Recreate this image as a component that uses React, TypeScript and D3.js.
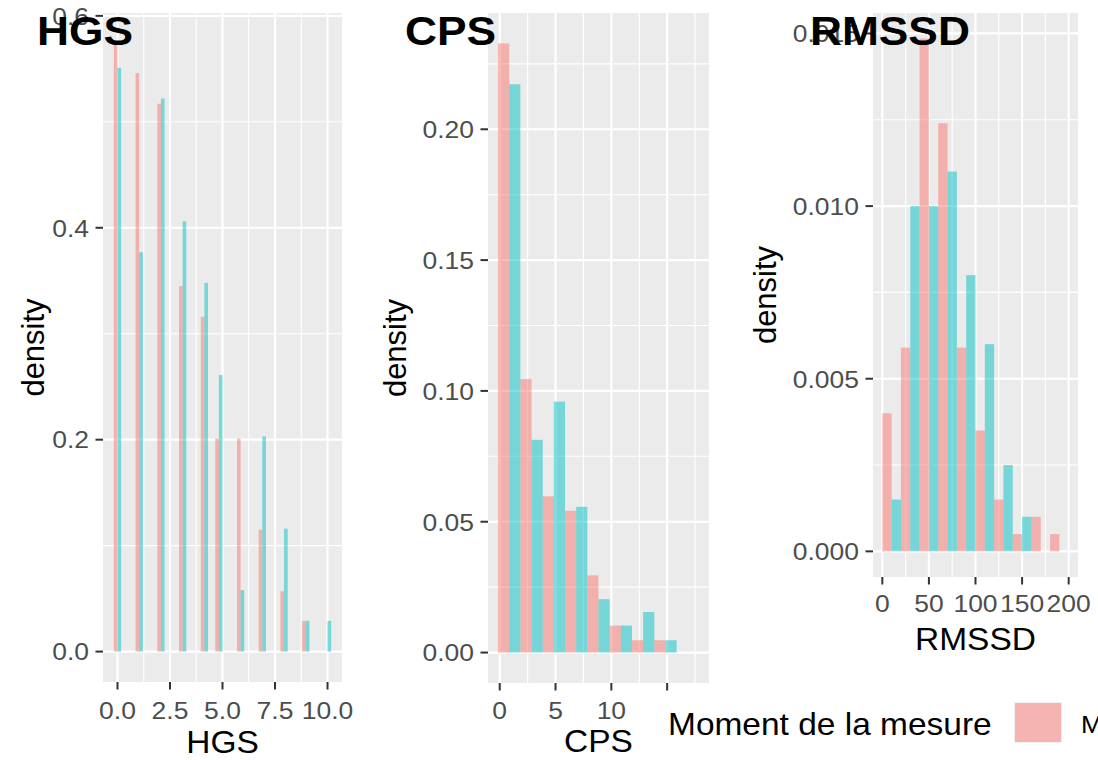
import React from "react";
import * as d3 from "d3";

// ---- data ----
const groups = ["Mesure 1", "Mesure 2"];
const groupColors = ["#F8766D", "#00BFC4"];

// HGS: bin centers (bin width 10/29)
const hgsBinCenters = [0, 1.034, 2.069, 3.103, 4.138, 4.828, 5.862, 6.897, 7.931, 8.966, 10];
const hgsBinWidth = 0.3448;
const hgsPink = [0.574, 0.546, 0.517, 0.345, 0.316, 0.201, 0.201, 0.115, 0.057, 0.029, 0];
const hgsCyan = [0.551, 0.377, 0.522, 0.406, 0.348, 0.261, 0.058, 0.203, 0.116, 0.029, 0.029];

// CPS: bin starts (bin width 2)
const cpsBinStarts = [-0.15, 1.85, 3.85, 5.85, 7.85, 9.85, 11.85, 13.85, 15.85];
const cpsBinWidth = 2;
const cpsPink = [0.2328, 0.1045, 0.0597, 0.0542, 0.0295, 0.0103, 0.0047, 0.0047, 0];
const cpsCyan = [0.2172, 0.0813, 0.0959, 0.0557, 0.0204, 0.0103, 0.0155, 0.0047, 0];

// RMSSD: bin starts (bin width 20)
const rmssdBinStarts = [0, 20, 40, 60, 80, 100, 120, 140, 160, 180];
const rmssdBinWidth = 20;
const rmssdPink = [0.004, 0.0059, 0.01485, 0.0124, 0.0059, 0.0035, 0.0015, 0.0005, 0.001, 0.0005];
const rmssdCyan = [0.0015, 0.01, 0.01, 0.011, 0.008, 0.006, 0.0025, 0.001, 0, 0];

const hgsXBreaks = [0, 2.5, 5, 7.5, 10];
const hgsXLabels = ["0.0", "2.5", "5.0", "7.5", "10.0"];
const hgsYBreaks = [0, 0.2, 0.4, 0.6];
const hgsYLabels = ["0.0", "0.2", "0.4", "0.6"];

const cpsXBreaks = [0, 5, 10, 15];
const cpsXLabels = ["0", "5", "10", ""];
const cpsYBreaks = [0, 0.05, 0.1, 0.15, 0.2];
const cpsYLabels = ["0.00", "0.05", "0.10", "0.15", "0.20"];

const rmssdXBreaks = [0, 50, 100, 150, 200];
const rmssdXLabels = ["0", "50", "100", "150", "200"];
const rmssdYBreaks = [0, 0.005, 0.01, 0.015];
const rmssdYLabels = ["0.000", "0.005", "0.010", "0.015"];

const FONT = "'Liberation Sans', Arial, sans-serif";
const SX = 1.08; // horizontal text stretch

function T(props: {
  x: number;
  y: number;
  size: number;
  fill?: string;
  anchor?: string;
  weight?: string;
  children: React.ReactNode;
}) {
  return (
    <text
      transform={`translate(${props.x},${props.y}) scale(${SX},1)`}
      textAnchor={props.anchor || "start"}
      fontSize={props.size}
      fontWeight={props.weight || "normal"}
      fill={props.fill || "#000"}
      fontFamily={FONT}
    >
      {props.children}
    </text>
  );
}

type PanelProps = {
  title: string;
  xTitle: string;
  left: number;
  right: number;
  top: number;
  bottom: number;
  binStarts: number[];
  binWidth: number;
  series: number[][];
  xBreaks: number[];
  xLabels: string[];
  yBreaks: number[];
  yLabels: string[];
  titleX: number;
  yTitleX: number;
  xLabelY: number;
  xTitleY: number;
};

function Panel(p: PanelProps) {
  const xmin = d3.min(p.binStarts)!;
  const xmax = d3.max(p.binStarts)! + p.binWidth;
  const xr = xmax - xmin;
  const x = d3.scaleLinear().domain([xmin - 0.05 * xr, xmax + 0.05 * xr]).range([p.left, p.right]);
  const ymax = d3.max(p.series.flat())!;
  const y = d3.scaleLinear().domain([-0.05 * ymax, ymax * 1.05]).range([p.bottom, p.top]);

  const xMinor: number[] = [];
  {
    const step = p.xBreaks[1] - p.xBreaks[0];
    for (let i = 0; i < p.xBreaks.length; i++) {
      const m = p.xBreaks[i] + step / 2;
      if (x(m) < p.right) xMinor.push(m);
    }
  }
  const yMinor: number[] = [];
  {
    const step = p.yBreaks[1] - p.yBreaks[0];
    for (let i = 0; i < p.yBreaks.length; i++) {
      const m = p.yBreaks[i] + step / 2;
      if (y(m) > p.top) yMinor.push(m);
    }
  }

  return (
    <g>
      <rect x={p.left} y={p.top} width={p.right - p.left} height={p.bottom - p.top} fill="#EBEBEB" />
      {yMinor.map((v) => (
        <line key={"ym" + v} x1={p.left} x2={p.right} y1={y(v)} y2={y(v)} stroke="#fff" strokeWidth={1.1} />
      ))}
      {xMinor.map((v) => (
        <line key={"xm" + v} y1={p.top} y2={p.bottom} x1={x(v)} x2={x(v)} stroke="#fff" strokeWidth={1.1} />
      ))}
      {p.yBreaks.map((v) => (
        <line key={"yM" + v} x1={p.left} x2={p.right} y1={y(v)} y2={y(v)} stroke="#fff" strokeWidth={2.2} />
      ))}
      {p.xBreaks.map((v) => (
        <line key={"xM" + v} y1={p.top} y2={p.bottom} x1={x(v)} x2={x(v)} stroke="#fff" strokeWidth={2.2} />
      ))}
      {p.series.map((vals, gi) =>
        vals.map((v, i) => {
          const s = p.binStarts[i] + (gi * p.binWidth) / 2;
          const e = s + p.binWidth / 2;
          if (v <= 0) return null;
          return (
            <rect
              key={gi + "-" + i}
              x={x(s)}
              width={x(e) - x(s)}
              y={y(v)}
              height={y(0) - y(v)}
              fill={groupColors[gi]}
              fillOpacity={0.5}
            />
          );
        })
      )}
      {/* y axis */}
      {p.yBreaks.map((v, i) => (
        <g key={"yt" + v}>
          <line x1={p.left - 7.5} x2={p.left} y1={y(v)} y2={y(v)} stroke="#333" strokeWidth={2} />
          <T x={p.left - 14} y={y(v) + 8.8} anchor="end" size={24.5} fill="#4D4D4D">
            {p.yLabels[i]}
          </T>
        </g>
      ))}
      {/* x axis */}
      {p.xBreaks.map((v, i) => (
        <g key={"xt" + v}>
          <line y1={p.bottom} y2={p.bottom + 7.5} x1={x(v)} x2={x(v)} stroke="#333" strokeWidth={2} />
          <T x={x(v)} y={p.xLabelY} anchor="middle" size={24.5} fill="#4D4D4D">
            {p.xLabels[i]}
          </T>
        </g>
      ))}
      <T x={(p.left + p.right) / 2} y={p.xTitleY} anchor="middle" size={31}>
        {p.xTitle}
      </T>
      <text
        transform={`translate(${p.yTitleX},${(p.top + p.bottom) / 2}) rotate(-90)`}
        textAnchor="middle"
        fontSize={31}
        fill="#000"
        fontFamily={FONT}
      >
        density
      </text>
      <T x={p.titleX} y={45} size={41} weight="bold">
        {p.title}
      </T>
    </g>
  );
}

export default function App() {
  const hgsStarts = hgsBinCenters.map((c) => c - hgsBinWidth / 2);
  return (
    <svg
      width={1098}
      height={760}
      style={{ position: "absolute", left: 0, top: 0, background: "#fff" }}
    >
      <rect x={0} y={0} width={1098} height={760} fill="#fff" />
      <Panel
        title="HGS"
        xTitle="HGS"
        left={103}
        right={342}
        top={13}
        bottom={682}
        binStarts={hgsStarts}
        binWidth={hgsBinWidth}
        series={[hgsPink, hgsCyan]}
        xBreaks={hgsXBreaks}
        xLabels={hgsXLabels}
        yBreaks={hgsYBreaks}
        yLabels={hgsYLabels}
        titleX={37}
        yTitleX={44}
        xLabelY={719}
        xTitleY={753}
      />
      <Panel
        title="CPS"
        xTitle="CPS"
        left={488}
        right={709}
        top={13}
        bottom={683}
        binStarts={cpsBinStarts}
        binWidth={cpsBinWidth}
        series={[cpsPink, cpsCyan]}
        xBreaks={cpsXBreaks}
        xLabels={cpsXLabels}
        yBreaks={cpsYBreaks}
        yLabels={cpsYLabels}
        titleX={405}
        yTitleX={406}
        xLabelY={719}
        xTitleY={752}
      />
      <Panel
        title="RMSSD"
        xTitle="RMSSD"
        left={873}
        right={1078}
        top={13}
        bottom={577}
        binStarts={rmssdBinStarts}
        binWidth={rmssdBinWidth}
        series={[rmssdPink, rmssdCyan]}
        xBreaks={rmssdXBreaks}
        xLabels={rmssdXLabels}
        yBreaks={rmssdYBreaks}
        yLabels={rmssdYLabels}
        titleX={810}
        yTitleX={776}
        xLabelY={612}
        xTitleY={650}
      />
      {/* legend */}
      <T x={668} y={735} size={31}>
        Moment de la mesure
      </T>
      <rect x={1014} y={702} width={48} height={41} fill="#F2F2F2" />
      <rect x={1015} y={703} width={46} height={39} fill={groupColors[0]} fillOpacity={0.5} />
      <T x={1081} y={733} size={24.5}>
        {groups[0]}
      </T>
    </svg>
  );
}
